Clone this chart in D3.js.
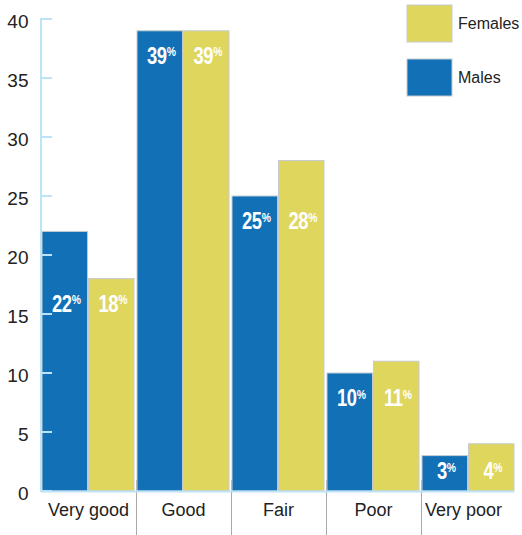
<!DOCTYPE html>
<html>
<head>
<meta charset="utf-8">
<script src="https://cdn.jsdelivr.net/npm/d3@7"></script>
<style>
  html, body { margin: 0; padding: 0; background: #fff; }
  svg { display: block; }
  text { font-family: "Liberation Sans", Arial, Helvetica, sans-serif; }
</style>
</head>
<body>
<svg id="chart" width="522" height="535"></svg>
<script>
const categories = ["Very good", "Good", "Fair", "Poor", "Very poor"];
const seriesNames = ["Males", "Females"];
const males = [22, 39, 25, 10, 3];
const females = [18, 39, 28, 11, 4];
const yTicks = [0, 5, 10, 15, 20, 25, 30, 35, 40];
const legendOrder = ["Females", "Males"];

const colors = { Males: "#1170b6", Females: "#dfd65e" };
const values = { Males: males, Females: females };

const svg = d3.select("#chart");

const y = d3.scaleLinear().domain([0, 40]).range([491, 19]);
const x0 = d3.scaleBand().domain(categories).range([41, 516]).paddingInner(0).paddingOuter(0);
const x1 = d3.scaleBand().domain(seriesNames).range([1, x0.bandwidth() - 2]).paddingInner(0.02);

// category separators
svg.append("g").selectAll("line")
  .data(categories.slice(1))
  .join("line")
  .attr("x1", d => x0(d) + 0.5).attr("x2", d => x0(d) + 0.5)
  .attr("y1", 480).attr("y2", 535)
  .attr("stroke", "#a9a9a9").attr("stroke-width", 1);

// bars
const groups = svg.append("g").selectAll("g")
  .data(categories)
  .join("g")
  .attr("transform", d => `translate(${x0(d)},0)`);

groups.selectAll("rect")
  .data((c, i) => seriesNames.map(s => ({ s, v: values[s][i] })))
  .join("rect")
  .attr("x", d => x1(d.s))
  .attr("width", x1.bandwidth())
  .attr("y", d => y(d.v))
  .attr("height", d => y(0) - y(d.v))
  .attr("fill", d => colors[d.s])
  .attr("stroke", "#c6cbd0")
  .attr("stroke-width", 1);

// value labels
categories.forEach((c, i) => {
  const mn = Math.min(males[i], females[i]);
  const baseY = Math.min(y(mn) + 33, y(0) - 12);
  seriesNames.forEach(s => {
    const v = values[s][i];
    const cx = x0(c) + x1(s) + x1.bandwidth() / 2 + 1.5;
    const t = svg.append("text")
      .attr("transform", `translate(${cx},${baseY}) scale(0.8,1)`)
      .attr("text-anchor", "middle")
      .attr("font-weight", "bold")
      .attr("fill", "#fff")
      .attr("letter-spacing", -0.5);
    t.append("tspan").attr("font-size", 23).text(String(v));
    t.append("tspan").attr("font-size", 13).attr("dy", -7.5).text("%");
  });
});

// y axis
const axisColor = "#bde3f7";
svg.append("line")
  .attr("x1", 41).attr("x2", 41).attr("y1", y(40) - 1).attr("y2", y(0) + 1)
  .attr("stroke", axisColor).attr("stroke-width", 2);
svg.append("g").selectAll("line")
  .data(yTicks)
  .join("line")
  .attr("x1", 41).attr("x2", 52)
  .attr("y1", d => y(d)).attr("y2", d => y(d))
  .attr("stroke", axisColor).attr("stroke-width", 2);
svg.append("g").selectAll("text")
  .data(yTicks)
  .join("text")
  .attr("x", 28.5).attr("y", d => y(d) + 9)
  .attr("text-anchor", "end")
  .attr("font-size", 19)
  .attr("fill", "#222")
  .text(d => d);

// x baseline
svg.append("line")
  .attr("x1", 41).attr("x2", 514).attr("y1", y(0) + 0.5).attr("y2", y(0) + 0.5)
  .attr("stroke", axisColor).attr("stroke-width", 2);

// x labels
svg.append("g").selectAll("text")
  .data(categories)
  .join("text")
  .attr("x", d => Math.min(x0(d) + x0.bandwidth() / 2, 463.5))
  .attr("y", 516)
  .attr("text-anchor", "middle")
  .attr("font-size", 18)
  .attr("fill", "#222")
  .text(d => d);

// legend
const leg = svg.append("g").selectAll("g")
  .data(legendOrder)
  .join("g")
  .attr("transform", (d, i) => `translate(407,${5 + i * 54})`);
leg.append("rect")
  .attr("width", 45).attr("height", 37)
  .attr("fill", d => colors[d])
  .attr("stroke", "#c6cbd0").attr("stroke-width", 1);
leg.append("text")
  .attr("x", 51).attr("y", 23.5)
  .attr("font-size", 16)
  .attr("fill", "#222")
  .text(d => d);
</script>
</body>
</html>
